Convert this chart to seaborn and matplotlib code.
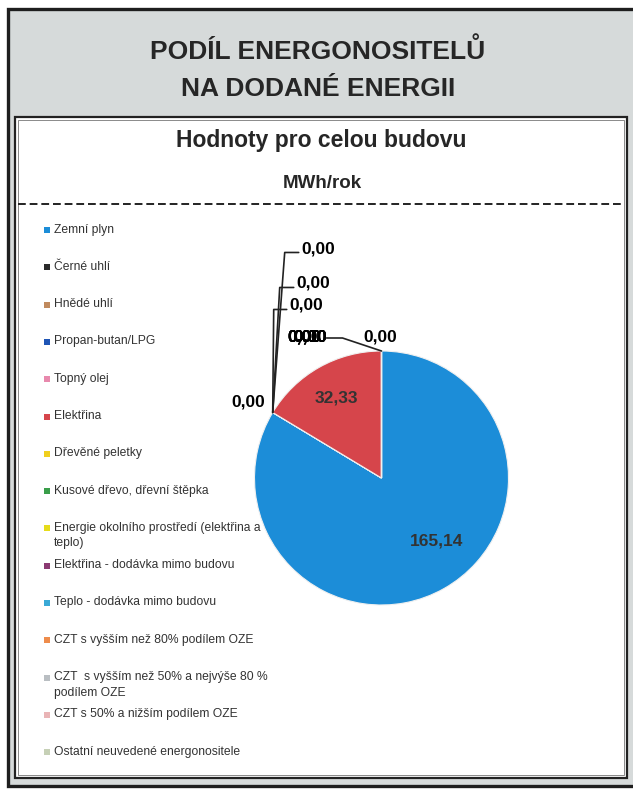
import numpy as np
import matplotlib
matplotlib.use("Agg")
import matplotlib.pyplot as plt
import matplotlib.patches as mpatches
import matplotlib.lines as mlines
import seaborn as sns

# chart data
carriers = [
    "Zemní plyn",
    "Černé uhlí",
    "Hnědé uhlí",
    "Propan-butan/LPG",
    "Topný olej",
    "Elektřina",
    "Dřevěné peletky",
    "Kusové dřevo, dřevní štěpka",
    "Energie okolního prostředí (elektřina a\nteplo)",
    "Elektřina - dodávka mimo budovu",
    "Teplo - dodávka mimo budovu",
    "CZT s vyšším než 80% podílem OZE",
    "CZT  s vyšším než 50% a nejvýše 80 %\npodílem OZE",
    "CZT s 50% a nižším podílem OZE",
    "Ostatní neuvedené energonositele",
]
values_mwh = [165.14, 0.0, 0.0, 0.0, 0.0, 32.33, 0.0, 0.0, 0.0, 0.0, 0.0, 0.0, 0.0, 0.0, 0.0]
carrier_colors = [
    "#1c8dd8", "#2b2b2b", "#c08a5e", "#1f55b5", "#e889ad",
    "#d6454b", "#f0cf1e", "#3a9e4a", "#e6dc1a", "#8b3a72",
    "#3aa9d6", "#ee8c4c", "#b9bec2", "#e9b4b6", "#c6d0b6",
]

title_lines = ["PODÍL ENERGONOSITELŮ", "NA DODANÉ ENERGII"]
subtitle = "Hodnoty pro celou budovu"
unit = "MWh/rok"

W, H = 633, 790


def fx(x):
    return x / W


def fy(y):
    return 1 - y / H


def fmt(v):
    return f"{v:.2f}".replace(".", ",")


sns.set_theme(style="white")
plt.rcParams["font.family"] = ["Liberation Sans", "DejaVu Sans"]

fig = plt.figure(figsize=(W / 100, H / 100), dpi=100)
fig.patch.set_facecolor("white")

# frames
fig.add_artist(mpatches.Rectangle((fx(8), fy(786)), fx(640) - fx(8), fy(9) - fy(786),
                                  transform=fig.transFigure, facecolor="#d6dada",
                                  edgecolor="#1e1e1e", linewidth=2.4, zorder=0))
fig.add_artist(mpatches.Rectangle((fx(15), fy(778)), fx(627) - fx(15), fy(117) - fy(778),
                                  transform=fig.transFigure, facecolor="white",
                                  edgecolor="#222222", linewidth=1.6, zorder=0))
fig.add_artist(mpatches.Rectangle((fx(18), fy(775)), fx(624) - fx(18), fy(120) - fy(775),
                                  transform=fig.transFigure, facecolor="none",
                                  edgecolor="#777777", linewidth=0.6, zorder=0))
fig.add_artist(mlines.Line2D([fx(18), fx(624)], [fy(204), fy(204)], transform=fig.transFigure,
                             color="#222222", linewidth=1.4, linestyle=(0, (4, 2))))

# titles
fig.text(fx(318), fy(51), title_lines[0], ha="center", va="center",
         fontsize=19, fontweight="bold", color="#262626")
fig.text(fx(318), fy(89), title_lines[1], ha="center", va="center",
         fontsize=19, fontweight="bold", color="#262626")
fig.text(fx(321), fy(140), subtitle, ha="center", va="center",
         fontsize=16.5, fontweight="bold", color="#262626")
fig.text(fx(322), fy(183), unit, ha="center", va="center",
         fontsize=13.5, fontweight="bold", color="#262626")

# legend
leg_top, leg_step = 230, 37.3
for i, (name, col) in enumerate(zip(carriers, carrier_colors)):
    y = leg_top + i * leg_step
    fig.add_artist(mpatches.Rectangle((fx(44), fy(y + 3)), fx(6), 6 / H,
                                      transform=fig.transFigure, facecolor=col,
                                      edgecolor="none"))
    fig.text(fx(54), fy(y - 6.5), name, ha="left", va="top", fontsize=8.7,
             color="#333333", linespacing=1.4)

# pie
cx, cy, r = 381.5, 478, 127
ax = fig.add_axes([fx(cx - r), fy(cy + r), 2 * r / W, 2 * r / H])
wedges, _ = ax.pie(values_mwh, colors=carrier_colors, startangle=90, counterclock=False,
                   radius=1.0, wedgeprops=dict(edgecolor="#f0f0f0", linewidth=0.8))
ax.set_xlim(-1, 1)
ax.set_ylim(-1, 1)
ax.set_aspect("auto")
ax.axis("off")

px = 1.0 / r  # one pixel in data units
lab_kw = dict(fontsize=12.5, fontweight="bold")

# value labels inside the non-zero wedges
for w, v in zip(wedges, values_mwh):
    if v > 0:
        mid = (w.theta1 + w.theta2) / 2
        if v > 100:
            mid, rr = mid + 12, 0.66
        else:
            rr = 0.72
        mid = np.deg2rad(mid)
        ax.text(rr * np.cos(mid), rr * np.sin(mid), fmt(v), ha="center", va="center",
                color="#333333", **lab_kw)

# zero labels grouped at the wedge borders
groups = {}
for w, v in zip(wedges, values_mwh):
    if v == 0:
        groups.setdefault(round(w.theta1, 3) % 360, []).append(v)

for ang, vals in groups.items():
    a = np.deg2rad(ang)
    x0, y0 = np.cos(a), np.sin(a)
    if abs(x0) < 0.05:
        # top of the pie: one beside the point, the rest piled to the left
        ax.text(x0 - 1 * px, y0 + 14 * px, fmt(vals[0]), ha="center", va="center",
                color="black", **lab_kw)
        ax.plot([x0, x0 - 39 * px, x0 - 55 * px], [y0, y0 + 13 * px, y0 + 13 * px],
                color="#222222", lw=1.2, clip_on=False)
        for k, v in enumerate(vals[1:]):
            ax.text(x0 - 94 * px + (k % 2) * 6 * px, y0 + 14 * px, fmt(v), ha="left",
                    va="center", color="black", **lab_kw)
    else:
        ax.text(x0 - 8 * px, y0 + 10 * px, fmt(vals[0]), ha="right", va="center",
                color="black", **lab_kw)
        elbows = [(12, 160), (7, 125), (1, 103)]
        offs = [(29, 163), (24, 129), (17, 107)]
        for (ex, ey), (ox, oy), v in zip(elbows, offs, vals[1:]):
            ax.plot([x0, x0 + ex * px, x0 + (ox - 3) * px],
                    [y0, y0 + ey * px, y0 + ey * px],
                    color="#222222", lw=1.2, clip_on=False)
            ax.text(x0 + ox * px, y0 + oy * px, fmt(v), ha="left", va="center",
                    color="black", **lab_kw)

fig.savefig("out.png", dpi=100)
